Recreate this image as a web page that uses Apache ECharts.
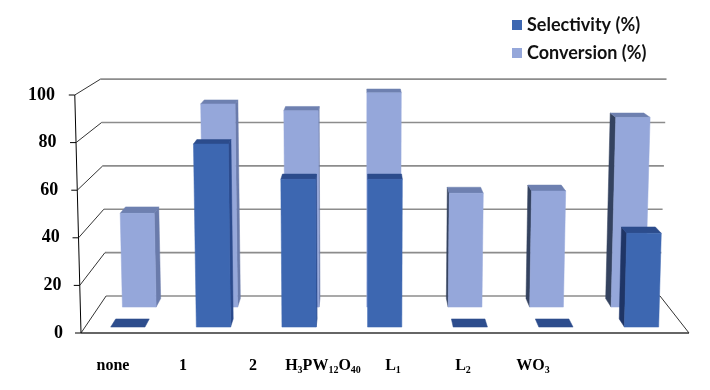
<!DOCTYPE html>
<html><head><meta charset="utf-8">
<script src="https://cdn.jsdelivr.net/npm/echarts@6/dist/echarts.min.js"></script>
<style>html,body{margin:0;padding:0;background:#fff}#c{width:710px;height:390px}</style>
</head><body><div id="c"></div>
<script>
// ---- data ----
const categories = ['none', '1', '2', 'H3PW12O40', 'L1', 'L2', 'WO3'];
const selectivity = [0, 78, 63, 63, 0, 0, 40];
const conversion = [42, 91, 88, 96, 51, 52, 85];
const yTicks = [0, 20, 40, 60, 80, 100];

// ---- view / style ----
const VIEW = { vx: 363, vy: -83, depth: 0.089, lean: 0.022 };
const DARK = { front: '#3d67b1', top: '#2c4c8c', right: '#2b4a8c', left: '#1f3566', plate: '#2d4d8d' };
const LIGHT = { front: '#95a7da', top: '#6e80b0', right: '#6a7bab', left: '#34425f', plate: '#6e80b0' };

function makeProj(api) {
  const y0 = api.coord([0, 0])[1], y1 = api.coord([0, 100])[1];
  return function (px, py, z) {
    const h = (y0 - py) / (y0 - y1);
    const x1 = VIEW.vx + (px - VIEW.vx) * (1 + VIEW.lean * h);
    const s = 1 - VIEW.depth * z;
    return [VIEW.vx + (x1 - VIEW.vx) * s, VIEW.vy + (py - VIEW.vy) * s];
  };
}
function seg(a, b, stroke, w) {
  return { type: 'line', shape: { x1: a[0], y1: a[1], x2: b[0], y2: b[1] }, style: { stroke: stroke, lineWidth: w } };
}
function renderFrame(params, api) {
  const P = makeProj(api);
  const cs = params.coordSys;
  const L = cs.x, R = cs.x + cs.width;
  const t = api.value(1);
  const y = api.coord([0, t])[1];
  const y100 = api.coord([0, 100])[1];
  const bl = P(L, y, 1), br = P(R, y, 1), fl = P(L, y, 0);
  const ch = [];
  ch.push(seg(bl, br, '#8c8c8c', 1.6));
  ch.push(seg(fl, bl, '#333', 1));
  ch.push(seg(fl, [fl[0] - 6, fl[1]], '#000', 1));
  if (t === 0) {
    const fr = P(R, y, 0);
    ch.push(seg(fl, fr, '#333', 1.3));
    ch.push(seg(fr, br, '#333', 1));
    ch.push(seg(fl, P(L, y100, 0), '#000', 1));
  }
  return { type: 'group', children: ch };
}
function makeBar(zf, zb, pal, half) {
  return function (params, api) {
    const P = makeProj(api);
    const i = api.value(0), v = api.value(1);
    const b = api.coord([i, 0]), t = api.coord([i, v]);
    const hw = api.size([1, 0])[0] * half;
    const xl = b[0] - hw, xr = b[0] + hw;
    const poly = (pts, fill) => ({ type: 'polygon', shape: { points: pts }, style: { fill: fill, stroke: fill, lineWidth: 0.5 } });
    const FLt = P(xl, t[1], zf), FRt = P(xr, t[1], zf), BLt = P(xl, t[1], zb), BRt = P(xr, t[1], zb);
    const ch = [];
    if (v > 0) {
      const FLb = P(xl, b[1], zf), FRb = P(xr, b[1], zf), BLb = P(xl, b[1], zb), BRb = P(xr, b[1], zb);
      if (BRt[0] > FRt[0] + 0.3) ch.push(poly([FRb, BRb, BRt, FRt], pal.right));
      if (BLt[0] < FLt[0] - 0.3) ch.push(poly([FLb, BLb, BLt, FLt], pal.left));
      ch.push(poly([FLt, FRt, BRt, BLt], pal.top));
      ch.push(poly([FLb, FRb, FRt, FLt], pal.front));
    } else {
      ch.push(poly([FLt, FRt, BRt, BLt], pal.plate));
    }
    return { type: 'group', children: ch };
  };
}

const serif = '"Liberation Serif", "Times New Roman", serif';
const yRich = {};
yTicks.forEach(t => {
  yRich['p' + t] = { fontFamily: serif, fontWeight: 'bold', fontSize: 18, color: '#000', padding: [0, 8 * t / 100, 0, 0] };
});
function xFormatter(val) {
  if (/^\d+$/.test(val)) return '{m|' + val + '}';
  return val.replace(/([A-Za-z]+)|(\d+)/g, (m, a, d) => a ? '{m|' + a + '}' : '{s|' + d + '}');
}

const chart = echarts.init(document.getElementById('c'));
chart.setOption({
  animation: false,
  backgroundColor: '#fff',
  legend: {
    data: ['Selectivity (%)', 'Conversion (%)'],
    orient: 'vertical', left: 512, top: 16, padding: 0,
    itemWidth: 10, itemHeight: 10, itemGap: 10, icon: 'rect',
    textStyle: { fontFamily: 'Lato, "Open Sans", sans-serif', fontWeight: 'bold', fontSize: 18, color: '#111', lineHeight: 18 }
  },
  grid: [
    { left: 81, right: 21, top: 95, bottom: 57, containLabel: false, outerBoundsMode: 'none' },
    { left: 78, right: 142, top: 95, bottom: 57, containLabel: false, outerBoundsMode: 'none' }
  ],
  xAxis: [
    { gridIndex: 0, type: 'category', data: categories, show: false },
    {
      gridIndex: 1, type: 'category', data: categories,
      axisLine: { show: false }, axisTick: { show: false }, splitLine: { show: false },
      axisLabel: {
        margin: 23, interval: 0, formatter: xFormatter,
        rich: {
          m: { fontFamily: serif, fontWeight: 'bold', fontSize: 16, color: '#000', lineHeight: 20 },
          s: { fontFamily: serif, fontWeight: 'bold', fontSize: 10, color: '#000', lineHeight: 10, padding: [8, 0, 0, 0] }
        }
      }
    }
  ],
  yAxis: [
    {
      gridIndex: 0, type: 'value', min: 0, max: 100, interval: 20,
      axisLine: { show: false }, axisTick: { show: false }, splitLine: { show: false },
      axisLabel: { margin: 18, formatter: v => '{p' + v + '|' + v + '}', rich: yRich }
    },
    { gridIndex: 1, type: 'value', show: false, splitLine: { show: false } }
  ],
  series: [
    {
      name: 'frame', type: 'custom', xAxisIndex: 0, yAxisIndex: 0, clip: false, silent: true,
      renderItem: renderFrame, data: yTicks.map(t => [0, t]), encode: { x: 0, y: 1 }
    },
    {
      name: 'Conversion (%)', type: 'custom', xAxisIndex: 0, yAxisIndex: 0, clip: false,
      itemStyle: { color: LIGHT.front },
      renderItem: makeBar(0.70, 0.93, LIGHT, 0.207),
      data: conversion.map((v, i) => [i, v]), encode: { x: 0, y: 1 }
    },
    {
      name: 'Selectivity (%)', type: 'custom', xAxisIndex: 0, yAxisIndex: 0, clip: false,
      itemStyle: { color: DARK.front },
      renderItem: makeBar(0.16, 0.38, DARK, 0.2),
      data: selectivity.map((v, i) => [i, v]), encode: { x: 0, y: 1 }
    }
  ]
});
</script>
</body></html>
